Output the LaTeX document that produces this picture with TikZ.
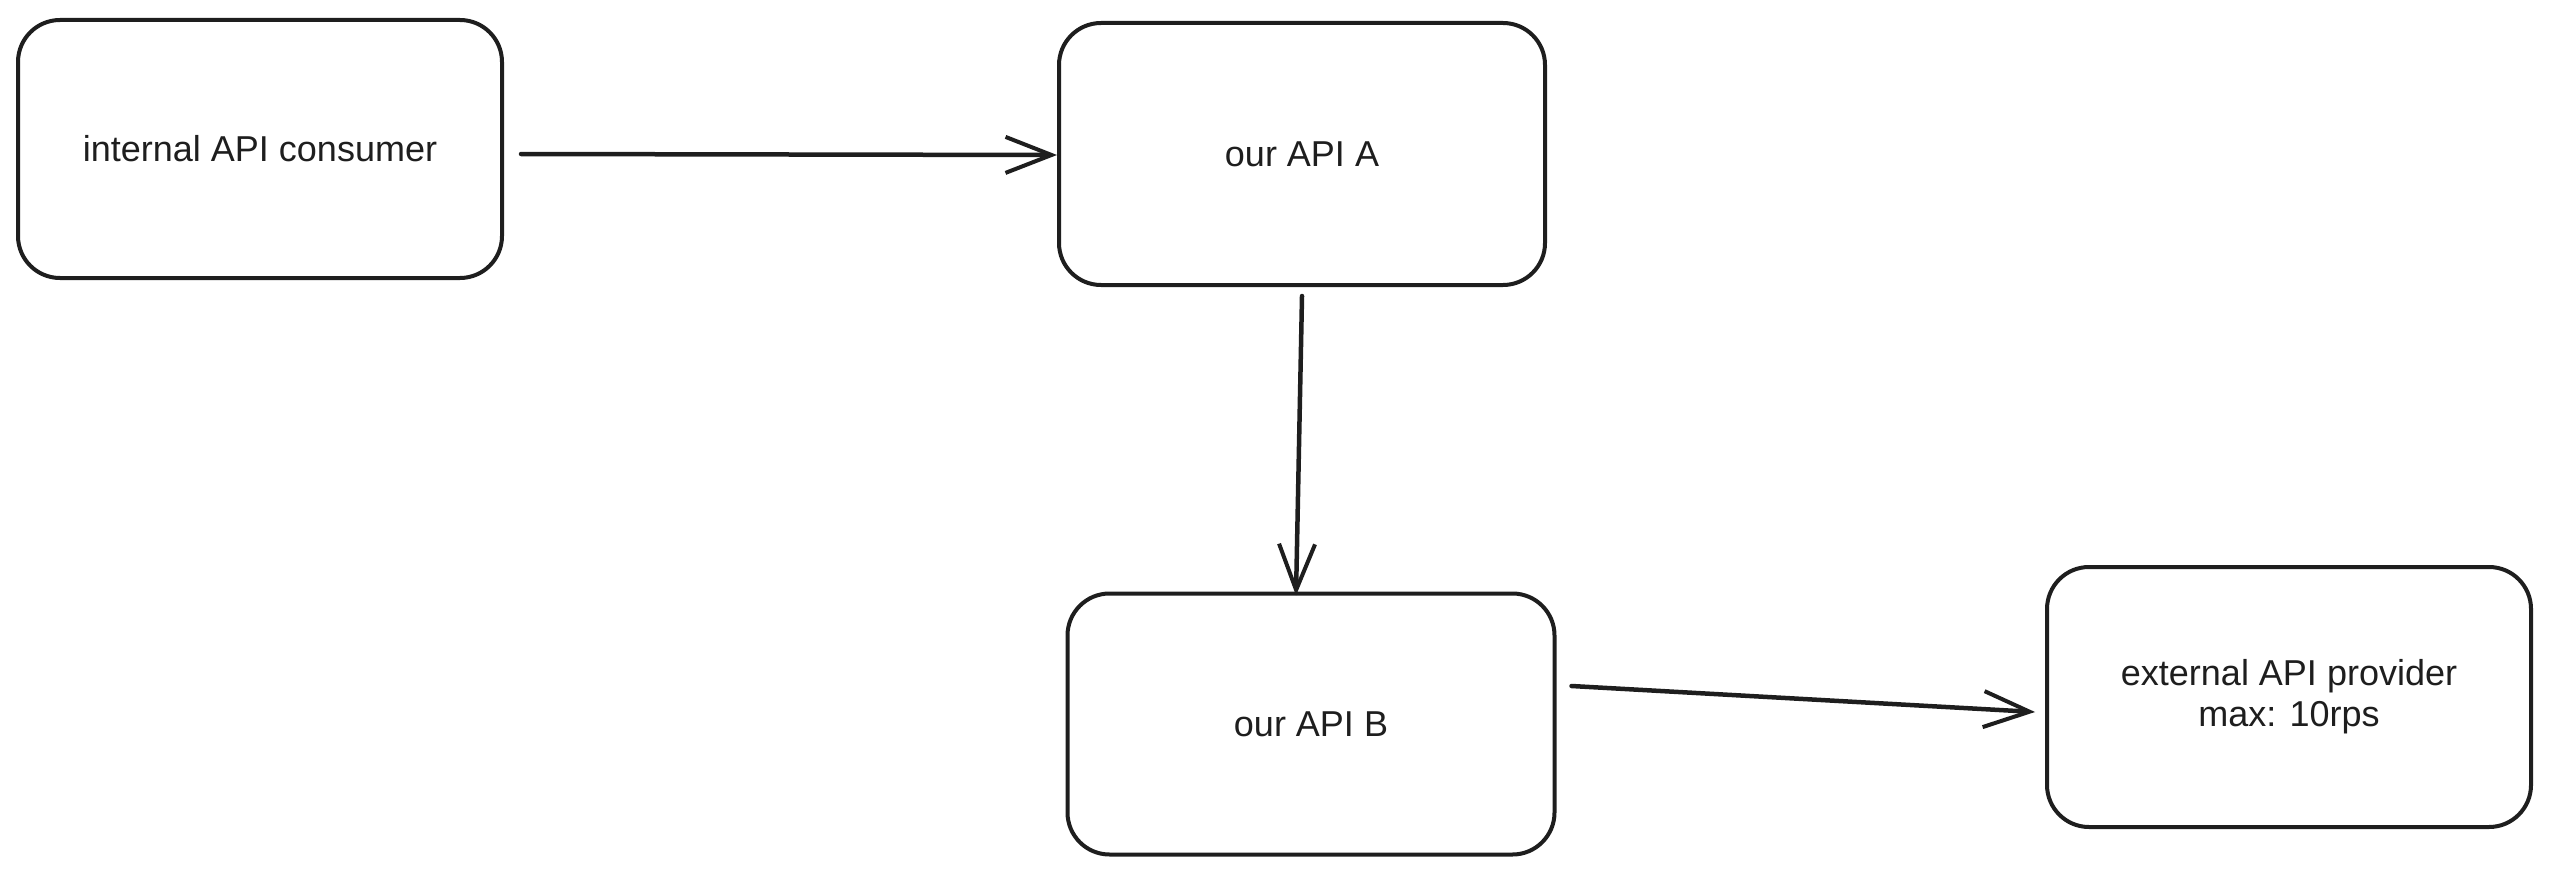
\documentclass[tikz,border=0pt]{standalone}
\usepackage{fontspec}
\setmainfont{Liberation Sans}
\usetikzlibrary{arrows.meta}
\definecolor{ink}{HTML}{1E1E1E}
\tikzset{
  box/.style={draw=ink, line width=4pt, rounded corners=42pt, fill=white,
    text=ink, align=center, inner sep=0pt,
    font=\fontsize{36}{41}\selectfont},
  conn/.style={draw=ink, line width=4.5pt, line cap=round,
    -{Straight Barb[length=46pt,width=36pt,line width=4pt]}}
}
\begin{document}
\begin{tikzpicture}[x=1pt,y=-1pt]
\useasboundingbox (0,0) rectangle (2550,872);
\node[box, minimum width=484pt, minimum height=258pt] (c) at (260,149) {internal API consumer};
\node[box, minimum width=486pt, minimum height=262pt] (a) at (1302,154) {our API A};
\node[box, minimum width=487pt, minimum height=261pt] (b) at (1311,724) {our API B};
\node[box, minimum width=484pt, minimum height=260pt] (e) at (2289,697) {external API provider\\max: 10rps};
\draw[conn] ([xshift=17pt,yshift=-5pt]c.east) -- ([yshift=-1pt]a.west);
\draw[conn] ([xshift=0pt,yshift=-9pt]a.south) -- ([xshift=-15pt,yshift=-4pt]b.north);
\draw[conn] ([xshift=15pt,yshift=38pt]b.east) -- ([xshift=-10pt,yshift=-15pt]e.west);
\end{tikzpicture}
\end{document}
